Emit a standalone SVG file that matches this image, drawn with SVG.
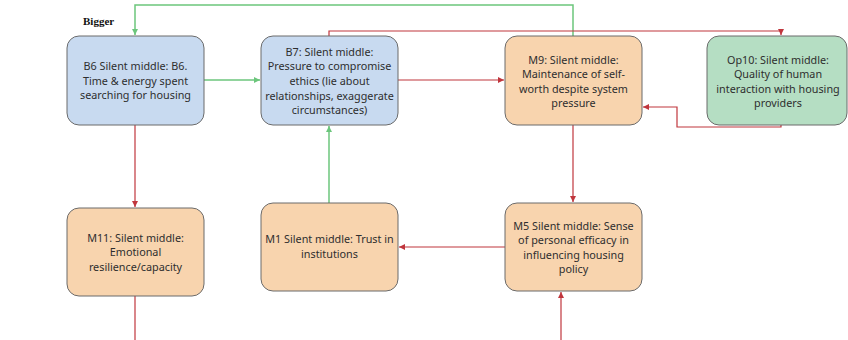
<svg xmlns="http://www.w3.org/2000/svg" width="848" height="340" viewBox="0 0 848 340">
  <style>
    .node rect { stroke: #6b6b6b; stroke-width: 1; }
    .blue rect { fill: #c8daf0; }
    .orange rect { fill: #f8d4ae; }
    .green rect { fill: #b5dec3; }
    .node text { font-family: "Noto Sans", "Open Sans", sans-serif; font-size: 10.8px; fill: #2e2e2e; text-anchor: middle; }
    .pos { fill: none; stroke: #6cc67c; stroke-width: 1.5; }
    .neg { fill: none; stroke: #c0363d; stroke-width: 1.2; }
    .title { font-family: "Liberation Serif", serif; font-weight: bold; font-size: 11px; fill: #111; }
  </style>
  <defs>
    <marker id="arrG" viewBox="0 0 6 6" refX="6" refY="3" markerWidth="6" markerHeight="6" markerUnits="userSpaceOnUse" orient="auto">
      <path d="M0,0 L6,3 L0,6 z" fill="#6cc67c"/>
    </marker>
    <marker id="arrR" viewBox="0 0 6 6" refX="6" refY="3" markerWidth="6" markerHeight="6" markerUnits="userSpaceOnUse" orient="auto">
      <path d="M0,0 L6,3 L0,6 z" fill="#c0363d"/>
    </marker>
  </defs>
  <rect width="848" height="340" fill="#ffffff"/>
  <text class="title" x="83" y="25">Bigger</text>

  <g id="connectors">
    <path class="pos" d="M573,36 V5 H135 V35" marker-end="url(#arrG)"/>
    <path class="pos" d="M204,80 H260" marker-end="url(#arrG)"/>
    <path class="pos" d="M329,203 V126" marker-end="url(#arrG)"/>
    <path class="neg" d="M329,36 V31 H781 V35" marker-end="url(#arrR)"/>
    <path class="neg" d="M398,80 H504" marker-end="url(#arrR)"/>
    <path class="neg" d="M781,125 V127 H677 V107 H643" marker-end="url(#arrR)"/>
    <path class="neg" d="M573,125 V202" marker-end="url(#arrR)"/>
    <path class="neg" d="M505,247 H399" marker-end="url(#arrR)"/>
    <path class="neg" d="M561,340 V292" marker-end="url(#arrR)"/>
    <path class="neg" d="M135,125 V207" marker-end="url(#arrR)"/>
    <path class="neg" d="M135,296 V340"/>
  </g>

  <g id="B6" class="node blue">
    <rect x="67" y="36" width="137" height="89" rx="12"/>
    <text x="135.5" y="70">B6 Silent middle: B6.</text>
    <text x="135.5" y="85">Time &amp; energy spent</text>
    <text x="135.5" y="99">searching for housing</text>
  </g>
  <g id="B7" class="node blue">
    <rect x="261" y="36" width="137" height="89" rx="12"/>
    <text x="329.5" y="56">B7: Silent middle:</text>
    <text x="329.5" y="70">Pressure to compromise</text>
    <text x="329.5" y="85">ethics (lie about</text>
    <text x="329.5" y="100">relationships, exaggerate</text>
    <text x="329.5" y="114">circumstances)</text>
  </g>
  <g id="M9" class="node orange">
    <rect x="505" y="36" width="137" height="89" rx="12"/>
    <text x="573.5" y="64">M9: Silent middle:</text>
    <text x="573.5" y="78">Maintenance of self-</text>
    <text x="573.5" y="93">worth despite system</text>
    <text x="573.5" y="107">pressure</text>
  </g>
  <g id="Op10" class="node green">
    <rect x="707" y="36" width="140" height="89" rx="12"/>
    <text x="778" y="64">Op10: Silent middle:</text>
    <text x="778" y="78">Quality of human</text>
    <text x="778" y="93">interaction with housing</text>
    <text x="778" y="107">providers</text>
  </g>
  <g id="M11" class="node orange">
    <rect x="67" y="208" width="137" height="88" rx="12"/>
    <text x="135.5" y="242">M11: Silent middle:</text>
    <text x="135.5" y="256">Emotional</text>
    <text x="135.5" y="271">resilience/capacity</text>
  </g>
  <g id="M1" class="node orange">
    <rect x="261" y="203" width="137" height="88" rx="12"/>
    <text x="329.5" y="243">M1 Silent middle: Trust in</text>
    <text x="329.5" y="258">institutions</text>
  </g>
  <g id="M5" class="node orange">
    <rect x="505" y="203" width="137" height="88" rx="12"/>
    <text x="573.5" y="230">M5 Silent middle: Sense</text>
    <text x="573.5" y="244">of personal efficacy in</text>
    <text x="573.5" y="259">influencing housing</text>
    <text x="573.5" y="273">policy</text>
  </g>
</svg>
